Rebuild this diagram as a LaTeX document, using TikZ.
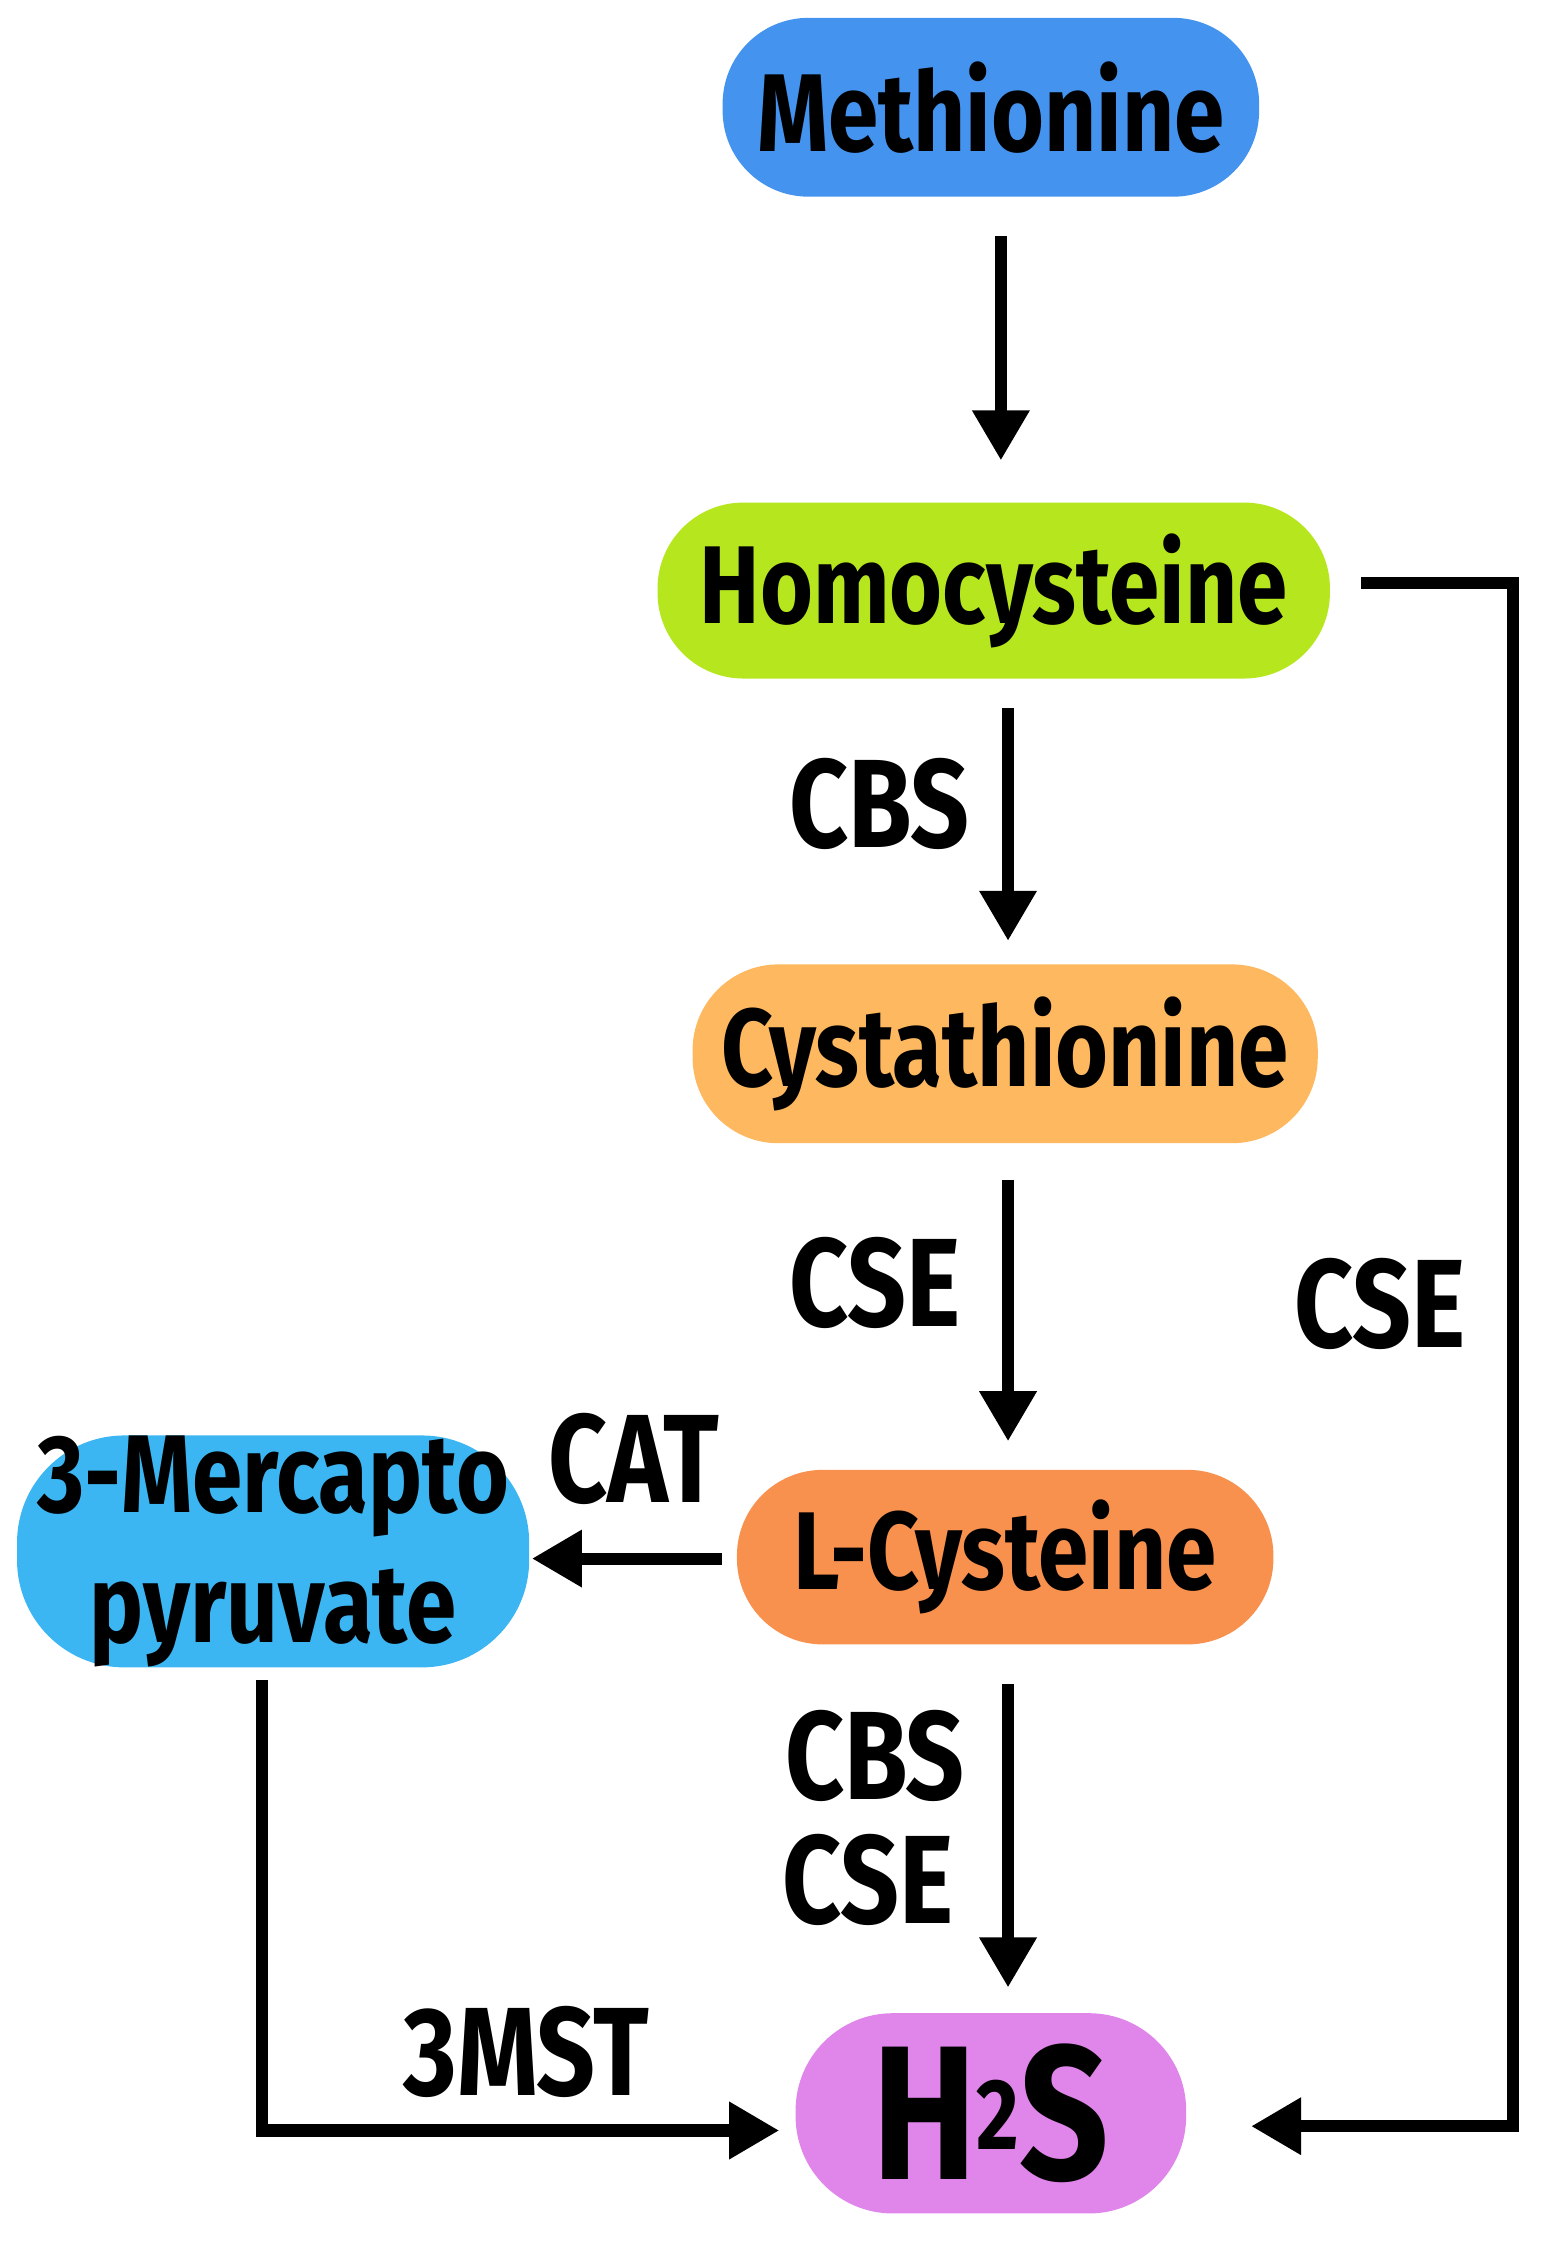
\documentclass[tikz,border=0pt]{standalone}
\usepackage{fontspec}
\setmainfont{Fira Sans}[FakeStretch=0.82]
\usetikzlibrary{arrows.meta}
\definecolor{cmet}{HTML}{4493EE}
\definecolor{chom}{HTML}{B6E61E}
\definecolor{ccys}{HTML}{FDB860}
\definecolor{clcy}{HTML}{F8904E}
\definecolor{cmer}{HTML}{3BB6F2}
\definecolor{chs}{HTML}{E085EA}
\begin{document}
\begin{tikzpicture}[x=0.01cm,y=-0.01cm,
  box/.style={rounded corners=0.6cm, inner sep=0pt, font=\fontsize{22}{24}\bfseries\selectfont, align=center},
  lab/.style={font=\fontsize{25}{27}\bfseries\selectfont, inner sep=0pt},
  arr/.style={line width=2.4pt, -{Triangle[length=0.35cm,width=0.38cm]}}]
\useasboundingbox (0,0) rectangle (1080,1568);
\node[box, fill=cmet, minimum width=3.75cm, minimum height=1.25cm] (met) at (693,75) {Methionine};
\node[box, fill=chom, minimum width=4.7cm, minimum height=1.23cm] (hom) at (695,413) {Homocysteine};
\node[box, fill=ccys, minimum width=4.37cm, minimum height=1.25cm] (cys) at (703,737) {Cystathionine};
\node[box, fill=clcy, minimum width=3.75cm, minimum height=1.22cm] (lcy) at (703,1089) {L-Cysteine};
\node[box, fill=cmer, minimum width=3.58cm, minimum height=1.54cm, rounded corners=0.75cm, font=\fontsize{22}{26}\bfseries\selectfont] (mer) at (191,1085) {3-Mercapto\\pyruvate};
\node[box, fill=chs, minimum width=2.73cm, minimum height=1.4cm, rounded corners=0.68cm, font=\fontsize{38}{40}\bfseries\selectfont] (hs) at (693,1478) {H\raisebox{0.3ex}{\fontsize{20}{20}\selectfont 2}S};
\coordinate (a1) at (700,165);
\coordinate (b1) at (700,322);
\draw[arr] (a1) -- (b1);
\coordinate (a2) at (705,495);
\coordinate (b2) at (705,658);
\draw[arr] (a2) -- (b2);
\node[lab] (l1) at (615,562) {CBS};
\coordinate (a3) at (705,825);
\coordinate (b3) at (705,1008);
\draw[arr] (a3) -- (b3);
\node[lab] (l2) at (612,897) {CSE};
\coordinate (a4) at (505,1090);
\coordinate (b4) at (372,1090);
\draw[arr] (a4) -- (b4);
\node[lab] (l3) at (443,1020) {CAT};
\coordinate (a5) at (705,1178);
\coordinate (b5) at (705,1390);
\draw[arr] (a5) -- (b5);
\node[lab] (l4) at (612,1228) {CBS};
\node[lab] (l5) at (607,1315) {CSE};
\coordinate (a6) at (183,1175);
\coordinate (b6) at (545,1490);
\draw[arr] (a6) |- (b6);
\node[lab] (l6) at (368,1435) {3MST};
\coordinate (a7) at (952,408);
\coordinate (c7) at (1058,1487);
\coordinate (b7) at (875,1487);
\draw[arr] (a7) -| (c7) -- (b7);
\node[lab] (l7) at (965,912) {CSE};
\end{tikzpicture}
\end{document}
